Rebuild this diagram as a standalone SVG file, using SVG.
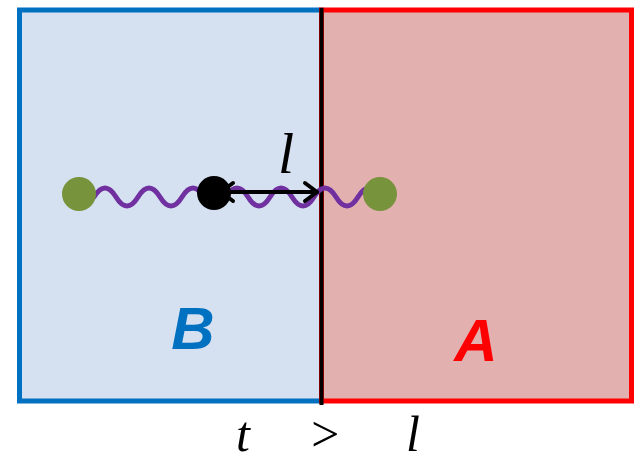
<svg xmlns="http://www.w3.org/2000/svg" width="638" height="464" viewBox="0 0 638 464">
  <style>
    .math { font-family: "Liberation Serif", "Times New Roman", serif; font-style: italic; fill: #000; }
    .region-label { font-family: "Liberation Sans", Arial, sans-serif; font-weight: bold; font-style: italic; }
    .bead { fill: #77933C; }
  </style>
  <rect width="638" height="464" fill="#ffffff"/>

  <g id="region-B">
    <rect x="19.5" y="10" width="302" height="391" fill="#D5E0F1" stroke="#0070C0" stroke-width="5"/>
    <text class="region-label" x="193" y="349" font-size="60" fill="#0070C0" text-anchor="middle">B</text>
  </g>

  <g id="region-A">
    <rect x="321.5" y="10" width="310" height="391" fill="#E3B0B0" stroke="#FF0000" stroke-width="5"/>
    <text class="region-label" x="476" y="361" font-size="60" fill="#FF0000" text-anchor="middle">A</text>
  </g>

  <g id="boundary">
    <line x1="321.5" y1="8" x2="321.5" y2="405" stroke="#000" stroke-width="4"/>
  </g>

  <g id="connectors">
    <!-- wavy polymer strand between the two end beads -->
    <path d="M94,197 q11,-18 22,0 t22,0 t22,0 t22,0 t22,0 t22,0 t22,0 t22,0 t22,0 t22,0 t22,0 t22,0 t22,0" fill="none" stroke="#7030A0" stroke-width="5" stroke-linecap="round"/>
    <!-- distance marker l -->
    <g stroke="#000" stroke-width="4" fill="none" stroke-linecap="round" stroke-linejoin="round">
      <line x1="221" y1="192" x2="317" y2="192"/>
      <polyline points="233,183 221,192 233,201"/>
      <polyline points="305,183 317,192 305,201"/>
    </g>
  </g>

  <g id="bead-left">
    <circle class="bead" cx="79" cy="194" r="17"/>
  </g>
  <g id="bead-right">
    <circle class="bead" cx="380" cy="194" r="17"/>
  </g>
  <g id="bead-center">
    <circle cx="214" cy="193" r="17" fill="#000"/>
  </g>

  <g id="label-l">
    <text class="math" x="278" y="173" font-size="58">l</text>
  </g>

  <g id="condition">
    <text class="math" x="236" y="451" font-size="50">t</text>
    <text class="math" x="308" y="451" font-size="50" font-style="normal">&gt;</text>
    <text class="math" x="406" y="451" font-size="50">l</text>
  </g>
</svg>
